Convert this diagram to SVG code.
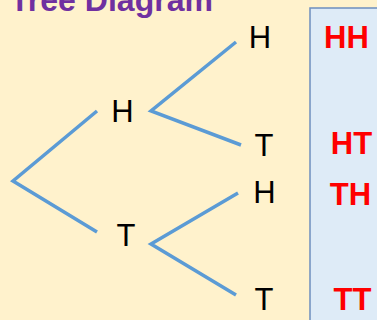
<svg xmlns="http://www.w3.org/2000/svg" width="377" height="320" viewBox="0 0 377 320">
<style>
.n{font-family:"Liberation Sans",Arial,sans-serif;font-size:31px;fill:#000;text-anchor:middle}
.r{font-family:"Liberation Sans",Arial,sans-serif;font-size:31px;font-weight:bold;fill:#FF0000;text-anchor:middle}
.e{stroke:#5B9BD5;stroke-width:3.5;fill:none;stroke-linecap:butt}
</style>
<rect x="0" y="0" width="377" height="320" fill="#FFF2CC"/>
<text x="10" y="11" font-family="Liberation Sans,Arial,sans-serif" font-size="31" font-weight="bold" fill="#7030A0" textLength="203" lengthAdjust="spacingAndGlyphs">Tree Diagram</text>
<rect id="outcomes" x="310" y="8" width="80" height="330" fill="#DEEBF7" stroke="#6E8FBF" stroke-width="1.5"/>
<g id="connectors">
<polyline class="e" points="97,111 13,181 97,232"/>
<polyline class="e" points="236,42 151,111 241,145"/>
<polyline class="e" points="238,193 151,244 236,295"/>
</g>
<g id="nodeH"><text class="n" x="122.5" y="122">H</text></g>
<g id="nodeT"><text class="n" x="126" y="246">T</text></g>
<g id="nodeHH"><text class="n" x="260" y="48">H</text></g>
<g id="nodeHT"><text class="n" x="264" y="156">T</text></g>
<g id="nodeTH"><text class="n" x="264.5" y="203">H</text></g>
<g id="nodeTT"><text class="n" x="264" y="310">T</text></g>
<g id="outHH"><text class="r" x="346.5" y="48">HH</text></g>
<g id="outHT"><text class="r" x="351.5" y="154">HT</text></g>
<g id="outTH"><text class="r" x="350.5" y="205">TH</text></g>
<g id="outTT"><text class="r" x="352.5" y="310">TT</text></g>
</svg>
